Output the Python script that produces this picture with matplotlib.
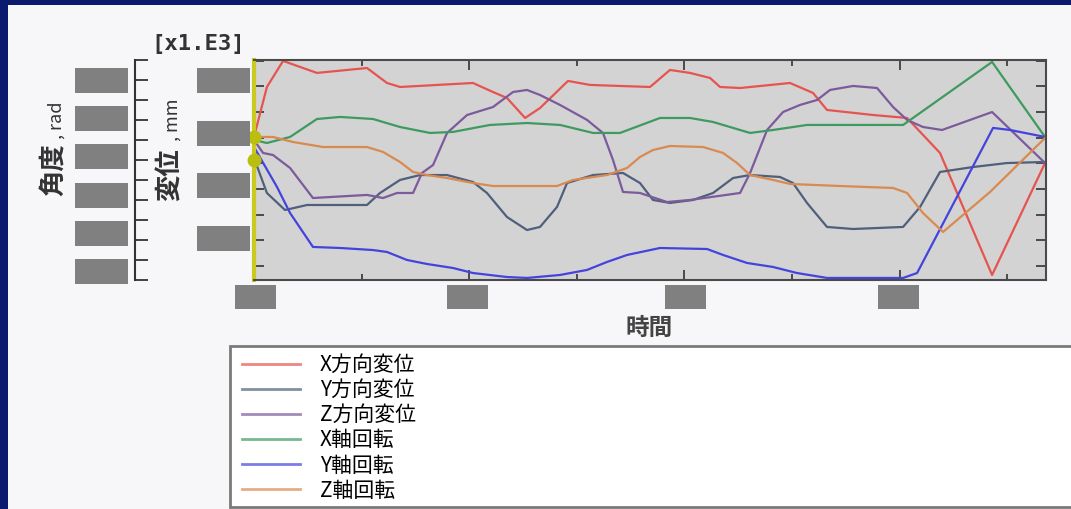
import matplotlib
matplotlib.use("Agg")
import matplotlib.pyplot as plt
from matplotlib.patches import Rectangle
from matplotlib.ticker import MultipleLocator

plt.rcParams['font.family'] = ['Noto Sans CJK JP', 'DejaVu Sans']

# ---- series (time, value) ----
x_disp_t = [0, 0.12, 0.27, 0.585, 1.05, 1.236, 1.357, 2.035, 2.221, 2.351, 2.519, 2.658, 2.918,
            3.123, 3.68, 3.866, 4.052, 4.238, 4.331, 4.517, 4.981, 5.195, 5.325, 5.753, 6.069,
            6.375, 6.859, 7.351]
x_disp_v = [0.507, 0.994, 1.248, 1.131, 1.179, 1.033, 0.994, 1.033, 0.945, 0.887, 0.692, 0.789,
            1.053, 1.014, 0.994, 1.160, 1.131, 1.082, 0.994, 0.984, 1.033, 0.936, 0.770, 0.721,
            0.692, 0.351, -0.838, 0.253]

y_disp_t = [0, 0.12, 0.288, 0.493, 1.05, 1.171, 1.357, 1.543, 1.794, 2.035, 2.165, 2.351, 2.537,
            2.658, 2.816, 2.909, 3.151, 3.429, 3.587, 3.708, 3.866, 4.080, 4.266, 4.452, 4.610,
            4.888, 5.009, 5.139, 5.325, 5.567, 6.032, 6.190, 6.375, 6.682, 6.998, 7.351]
y_disp_v = [0.302, -0.039, -0.205, -0.156, -0.156, -0.039, 0.088, 0.136, 0.136, 0.068, -0.039,
            -0.273, -0.400, -0.370, -0.175, 0.058, 0.136, 0.156, 0.058, -0.107, -0.136, -0.107,
            -0.039, 0.107, 0.136, 0.117, 0.058, -0.136, -0.370, -0.390, -0.370, -0.175, 0.166,
            0.214, 0.253, 0.263]

z_disp_t = [0, 0.084, 0.177, 0.335, 0.548, 1.05, 1.199, 1.329, 1.478, 1.561, 1.664, 1.794, 1.980,
            2.221, 2.407, 2.537, 2.658, 2.844, 3.095, 3.243, 3.336, 3.429, 3.587, 3.838, 4.052,
            4.517, 4.610, 4.768, 4.916, 5.074, 5.232, 5.353, 5.567, 5.790, 5.939, 6.069, 6.217,
            6.394, 6.859, 7.351]
z_disp_v = [0.478, 0.351, 0.331, 0.205, -0.088, -0.058, -0.088, -0.039, -0.039, 0.156, 0.234,
            0.546, 0.721, 0.799, 0.945, 0.965, 0.916, 0.819, 0.673, 0.546, 0.283, -0.029, -0.039,
            -0.127, -0.107, -0.039, 0.156, 0.575, 0.750, 0.819, 0.867, 0.965, 1.004, 0.984, 0.799,
            0.673, 0.604, 0.575, 0.750, 0.253]

x_rot_t = [0, 0.12, 0.335, 0.585, 0.80, 1.106, 1.357, 1.636, 1.849, 2.193, 2.537, 2.844, 3.151,
           3.401, 3.773, 4.052, 4.266, 4.610, 4.823, 5.139, 6.032, 6.859, 7.351]
x_rot_v = [0.478, 0.448, 0.507, 0.682, 0.702, 0.682, 0.604, 0.546, 0.556, 0.624, 0.643, 0.624,
           0.546, 0.546, 0.692, 0.692, 0.653, 0.546, 0.575, 0.624, 0.624, 1.238, 0.507]

y_rot_t = [0, 0.214, 0.335, 0.548, 0.80, 1.106, 1.236, 1.422, 1.608, 1.849, 2.035, 2.351, 2.537,
           2.844, 3.095, 3.281, 3.467, 3.773, 4.210, 4.359, 4.582, 4.823, 5.046, 5.325, 6.032,
           6.162, 6.868, 7.026, 7.351]
y_rot_v = [0.409, 0.019, -0.234, -0.565, -0.575, -0.595, -0.614, -0.692, -0.731, -0.770, -0.819,
           -0.858, -0.867, -0.838, -0.789, -0.711, -0.643, -0.575, -0.585, -0.643, -0.721, -0.760,
           -0.819, -0.867, -0.867, -0.819, 0.595, 0.575, 0.507]

z_rot_t = [0, 0.177, 0.362, 0.641, 1.05, 1.199, 1.357, 1.478, 1.608, 1.794, 2.035, 2.221, 2.816,
           2.965, 3.281, 3.467, 3.587, 3.708, 3.866, 4.173, 4.359, 4.489, 4.610, 4.823, 4.981,
           5.446, 5.939, 6.069, 6.217, 6.403, 6.840, 7.351]
z_rot_v = [0.507, 0.507, 0.458, 0.409, 0.409, 0.361, 0.263, 0.166, 0.136, 0.107, 0.058, 0.029,
           0.029, 0.088, 0.136, 0.205, 0.312, 0.380, 0.419, 0.409, 0.351, 0.253, 0.136, 0.088,
           0.049, 0.029, 0.010, -0.039, -0.234, -0.419, -0.029, 0.497]

series_labels = ['X方向変位', 'Y方向変位', 'Z方向変位', 'X軸回転', 'Y軸回転', 'Z軸回転']
series_colors = ['#e65450', '#4f5f7c', '#7c5a9c', '#3f9a60', '#4444dd', '#d98a50']

# starting markers on the left spine
start_values = [0.507, 0.283]

W, H = 1071, 509
fig = plt.figure(figsize=(W / 100, H / 100), dpi=100, facecolor='#f7f7f9')


def px_rect(x0, y0, x1, y1, **kw):
    return Rectangle((x0 / W, 1 - y1 / H), (x1 - x0) / W, (y1 - y0) / H,
                     transform=fig.transFigure, **kw)


# window frame
fig.patches.append(px_rect(0, 0, W, 5, facecolor='#0b1a6e', edgecolor='none'))
fig.patches.append(px_rect(0, 0, 8, H, facecolor='#0b1a6e', edgecolor='none'))

# main plot
ax = fig.add_axes([254 / W, 1 - 280 / H, (1046 - 254) / W, 220 / H])
ax.set_facecolor('#d3d3d3')
ax.set_xlim(0, 7.36)
ax.set_ylim(-0.887, 1.257)

series = [(x_disp_t, x_disp_v), (y_disp_t, y_disp_v), (z_disp_t, z_disp_v),
          (x_rot_t, x_rot_v), (y_rot_t, y_rot_v), (z_rot_t, z_rot_v)]
handles = []
for (t, v), lab, col in zip(series, series_labels, series_colors):
    h, = ax.plot(t, v, color=col, lw=1.6, label=lab)
    handles.append(h)

ax.plot([0] * len(start_values), start_values, 'o', color='#b9be10', ms=9,
        clip_on=False, zorder=5)

for s in ['top', 'bottom', 'right']:
    ax.spines[s].set_color('#4a4a4a')
    ax.spines[s].set_linewidth(1.5)
ax.spines['left'].set_color('#c9c920')
ax.spines['left'].set_linewidth(3)

ax.xaxis.set_major_locator(MultipleLocator(2))
ax.xaxis.set_minor_locator(MultipleLocator(1))
ax.yaxis.set_major_locator(MultipleLocator(0.5))
ax.yaxis.set_minor_locator(MultipleLocator(0.25))
ax.tick_params(axis='x', which='major', direction='in', length=7, width=1.2,
               top=True, bottom=True, color='#333333', labelbottom=False)
ax.tick_params(axis='x', which='minor', direction='in', length=4, width=1.2,
               top=True, bottom=True, color='#333333')
ax.tick_params(axis='y', which='both', direction='in', length=7, width=1.2,
               left=True, right=True, color='#333333', labelleft=False)

# outer angle axis
ax_ang = fig.add_axes([135 / W, 1 - 280 / H, 0.0001, 220 / H])
ax_ang.set_facecolor('none')
for s in ['top', 'bottom', 'right']:
    ax_ang.spines[s].set_visible(False)
ax_ang.spines['left'].set_color('#333333')
ax_ang.spines['left'].set_linewidth(1.5)
ax_ang.set_ylim(0, 11)
ax_ang.set_xticks([])
ax_ang.set_yticks(range(0, 12))
ax_ang.tick_params(axis='y', direction='in', length=9, width=1.3, color='#333333',
                   labelleft=False)

# masked tick label blocks
block = dict(facecolor='#808080', edgecolor='none')
for y0 in [68, 106, 144, 183, 221, 259]:
    fig.patches.append(px_rect(75, y0, 128, y0 + 25, **block))
for y0 in [68, 121, 173, 226]:
    fig.patches.append(px_rect(197, y0, 250, y0 + 25, **block))
for x0 in [235, 447, 665, 878]:
    fig.patches.append(px_rect(x0, 285, x0 + 41, 309, **block))

# axis titles
fig.text(54 / W, 1 - 170 / H, '角度', rotation=90, ha='center', va='center',
         fontsize=19, fontweight='bold', color='#333333')
fig.text(57 / W, 1 - 120 / H, ', rad', rotation=90, ha='center', va='center',
         fontsize=13, color='#333333')
fig.text(170 / W, 1 - 175 / H, '変位', rotation=90, ha='center', va='center',
         fontsize=19, fontweight='bold', color='#333333')
fig.text(173 / W, 1 - 120 / H, ', mm', rotation=90, ha='center', va='center',
         fontsize=13, color='#333333')
fig.text(198 / W, 1 - 44 / H, '[x1.E3]', ha='center', va='center',
         fontsize=16, family='DejaVu Sans Mono', fontweight='bold', color='#333333')
fig.text(649 / W, 1 - 328 / H, '時間', ha='center', va='center',
         fontsize=17, fontweight='bold', color='#444444')

# legend panel
fig.patches.append(px_rect(230, 346, 1080, 507, facecolor='white', edgecolor='#7a7a7a',
                           linewidth=2))
leg = fig.legend(handles, series_labels, loc='upper left',
                 bbox_to_anchor=(242 / W, 1 - 354 / H), frameon=False,
                 fontsize=15, handlelength=2.8, handletextpad=0.95,
                 labelspacing=0.15, borderaxespad=0, borderpad=0)
for line in leg.get_lines():
    line.set_linewidth(2)
    line.set_alpha(0.7)

fig.savefig('out.png', dpi=100, facecolor=fig.get_facecolor())
